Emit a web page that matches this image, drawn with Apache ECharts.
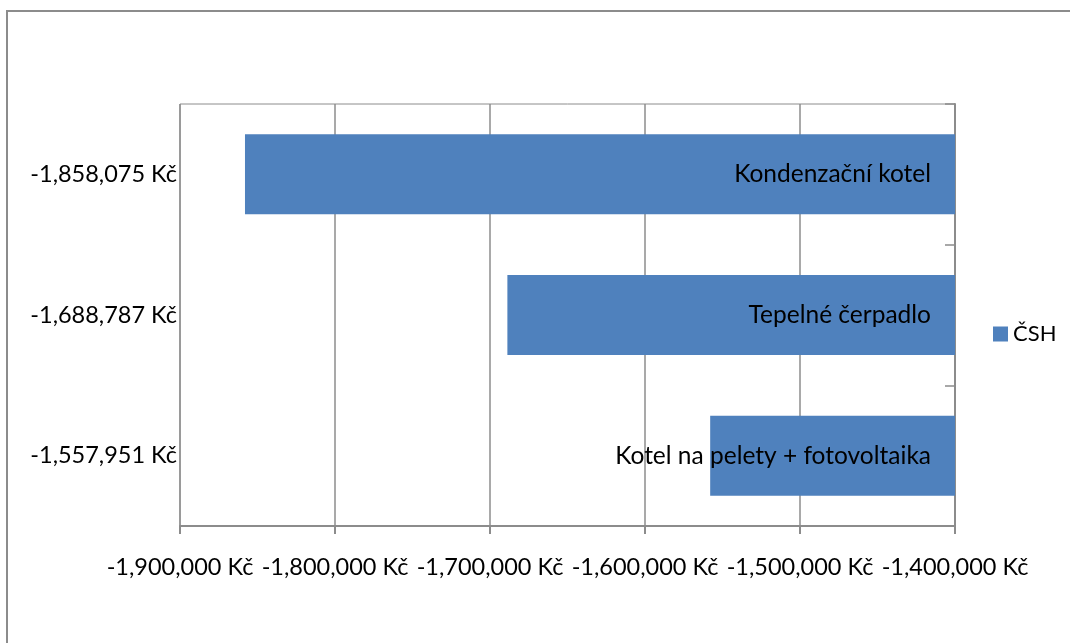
<!DOCTYPE html>
<html>
<head>
<meta charset="utf-8">
<script src="https://cdn.jsdelivr.net/npm/echarts@6/dist/echarts.min.js"></script>
<style>
  html, body { margin: 0; padding: 0; background: #fff; }
  #chart { width: 1070px; height: 643px; }
</style>
</head>
<body>
<div id="chart"></div>
<script>
// data
var names = ['Kondenzační kotel', 'Tepelné čerpadlo', 'Kotel na pelety + fotovoltaika'];
var values = [-1858075, -1688787, -1557951];
var seriesName = 'ČSH';
var axisMin = -1900000;
var axisMax = -1400000;
var axisStep = 100000;

function fmt(v) {
    var s = Math.abs(v).toString().replace(/\B(?=(\d{3})+(?!\d))/g, ',');
    return (v < 0 ? '-' : '') + s + ' Kč';
}

var font = 'Lato, "Open Sans", sans-serif';
var gray = '#8c8c8c';

var chart = echarts.init(document.getElementById('chart'));

// bars start at the right edge (axisMax), so stack an invisible base under them
var baseData = values.map(function () { return axisMax; });
var diffData = values.map(function (v) { return v - axisMax; });

var option = {
    animation: false,
    textStyle: { fontFamily: font },
    graphic: [{
        type: 'rect',
        shape: { x: 7, y: 11, width: 1200, height: 800 },
        style: { fill: 'none', stroke: gray, lineWidth: 2 },
        silent: true
    }],
    legend: {
        data: [{ name: seriesName }],
        left: 988,
        top: 318,
        itemWidth: 15,
        itemHeight: 15,
        itemGap: 6,
        icon: 'rect',
        textStyle: { fontSize: 22, color: '#000', fontFamily: font }
    },
    grid: {
        left: 180,
        right: 115,
        top: 104,
        bottom: 117,
        show: true,
        borderColor: gray,
        borderWidth: 1
    },
    xAxis: {
        type: 'value',
        min: axisMin,
        max: axisMax,
        interval: axisStep,
        axisLine: { show: true, onZero: false, lineStyle: { color: gray, width: 2 } },
        axisTick: { show: true, length: 8, lineStyle: { color: gray, width: 2 } },
        splitLine: { show: true, lineStyle: { color: gray, width: 1.5 } },
        axisLabel: {
            margin: 29,
            fontSize: 23.5,
            color: '#000',
            fontFamily: font,
            formatter: fmt
        }
    },
    yAxis: [{
        type: 'category',
        position: 'right',
        inverse: true,
        data: names,
        axisLine: { show: true, lineStyle: { color: gray, width: 2 } },
        axisTick: { show: true, inside: true, length: 10, lineStyle: { color: gray, width: 1.5 } },
        axisLabel: { show: false }
    }, {
        type: 'category',
        position: 'left',
        inverse: true,
        data: values.map(fmt),
        axisLine: { show: false },
        axisTick: { show: false },
        axisLabel: {
            margin: 3,
            fontSize: 23.5,
            color: '#000',
            fontFamily: font,
            padding: [5, 0, 0, 0]
        }
    }],
    series: [{
        name: 'base',
        type: 'bar',
        stack: 'total',
        yAxisIndex: 0,
        barWidth: 80,
        silent: true,
        itemStyle: { color: 'rgba(0,0,0,0)' },
        data: baseData
    }, {
        name: seriesName,
        type: 'bar',
        stack: 'total',
        yAxisIndex: 0,
        barWidth: 80,
        itemStyle: { color: '#4F81BD' },
        label: {
            show: true,
            position: 'insideRight',
            distance: 24,
            fontSize: 24.5,
            color: '#000',
            fontFamily: font,
            formatter: function (p) { return names[p.dataIndex]; }
        },
        data: diffData
    }]
};

chart.setOption(option);
</script>
</body>
</html>
